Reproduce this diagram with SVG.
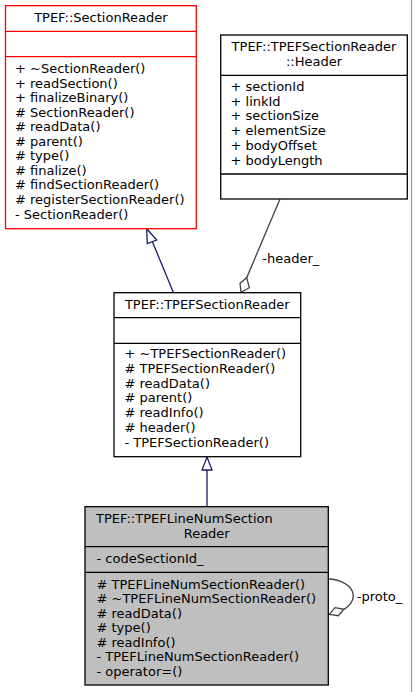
<svg xmlns="http://www.w3.org/2000/svg" width="413" height="692" viewBox="0 0 413 692">
<style>
text { font-family: "DejaVu Sans", "Liberation Sans", sans-serif; font-size: 13px; fill: #000; }
.c { text-anchor: middle; }
.box { fill: #fff; stroke: #000; stroke-width: 1.3; }
.red { stroke: #ff0000; }
.gray { fill: #bfbfbf; }
.sep { stroke: #000; stroke-width: 1.3; }
.inh { stroke: #191970; stroke-width: 1.3; fill: none; }
.inhHead { stroke: #191970; stroke-width: 1.3; fill: #fff; }
.agg { stroke: #404040; stroke-width: 1.3; fill: none; }
.aggHead { stroke: #404040; stroke-width: 1.3; fill: #fff; }
</style>
<rect x="0" y="0" width="413" height="692" fill="#fff"/>
<line x1="411.5" y1="0" x2="411.5" y2="692" stroke="#a0a0a0" stroke-width="1.3"/>

<g id="connectors">
  <path class="inh" d="M173.3,292.2 L152,240.8"/>
  <polygon class="inhHead" points="146.7,228.7 156.7,240 147.3,243.5"/>
  <path class="inh" d="M207,506.7 L207,470"/>
  <polygon class="inhHead" points="207,457 212,470 202,470"/>
  <path class="agg" d="M280,199 L246.7,277.7"/>
  <polygon class="aggHead" points="241,292.2 240,283.3 246.7,277.7 249.3,287.7"/>
  <text x="262.3" y="263.3">-header_</text>
  <path class="agg" d="M328.3,579 C352,580 362,598 344,609.3"/>
  <polygon class="aggHead" points="329.3,614.3 335,607.7 344,609.3 338.3,615.7"/>
  <text x="356.7" y="601">-proto_</text>
</g>

<g id="SectionReader">
  <rect class="box red" x="5.5" y="5.7" width="190.8" height="223"/>
  <line class="red" stroke-width="1.3" x1="5.5" y1="31.3" x2="196.3" y2="31.3"/>
  <line class="red" stroke-width="1.3" x1="5.5" y1="56.7" x2="196.3" y2="56.7"/>
  <text class="c" x="100.9" y="22">TPEF::SectionReader</text>
  <text x="15" y="73">+ ~SectionReader()</text>
  <text x="15" y="87.55">+ readSection()</text>
  <text x="15" y="102.1">+ finalizeBinary()</text>
  <text x="15" y="116.65"># SectionReader()</text>
  <text x="15" y="131.2"># readData()</text>
  <text x="15" y="145.75"># parent()</text>
  <text x="15" y="160.3"># type()</text>
  <text x="15" y="174.85"># finalize()</text>
  <text x="15" y="189.4"># findSectionReader()</text>
  <text x="15" y="203.95"># registerSectionReader()</text>
  <text x="15" y="218.5">- SectionReader()</text>
</g>

<g id="Header">
  <rect class="box" x="220.7" y="35" width="186.6" height="164"/>
  <line class="sep" x1="220.7" y1="75.3" x2="407.3" y2="75.3"/>
  <line class="sep" x1="220.7" y1="174" x2="407.3" y2="174"/>
  <text class="c" x="314" y="51">TPEF::TPEFSectionReader</text>
  <text class="c" x="314" y="65.7">::Header</text>
  <text x="230.5" y="91">+ sectionId</text>
  <text x="230.5" y="105.7">+ linkId</text>
  <text x="230.5" y="120.4">+ sectionSize</text>
  <text x="230.5" y="135.1">+ elementSize</text>
  <text x="230.5" y="149.8">+ bodyOffset</text>
  <text x="230.5" y="164.5">+ bodyLength</text>
</g>

<g id="TPEFSectionReader">
  <rect class="box" x="114" y="292.7" width="186.7" height="164"/>
  <line class="sep" x1="114" y1="317.7" x2="300.7" y2="317.7"/>
  <line class="sep" x1="114" y1="343.3" x2="300.7" y2="343.3"/>
  <text class="c" x="207.3" y="309.3">TPEF::TPEFSectionReader</text>
  <text x="124.5" y="358.3">+ ~TPEFSectionReader()</text>
  <text x="124.5" y="373"># TPEFSectionReader()</text>
  <text x="124.5" y="387.7"># readData()</text>
  <text x="124.5" y="402.4"># parent()</text>
  <text x="124.5" y="417.1"># readInfo()</text>
  <text x="124.5" y="431.8"># header()</text>
  <text x="124.5" y="446.5">- TPEFSectionReader()</text>
</g>

<g id="TPEFLineNumSectionReader">
  <rect class="box gray" x="85" y="506.7" width="243.3" height="178.3"/>
  <line class="sep" x1="85" y1="546.7" x2="328.3" y2="546.7"/>
  <line class="sep" x1="85" y1="572.3" x2="328.3" y2="572.3"/>
  <text x="96" y="523.3">TPEF::TPEFLineNumSection</text>
  <text class="c" x="206.7" y="537.5">Reader</text>
  <text x="96.5" y="563.3">- codeSectionId_</text>
  <text x="96.5" y="589"># TPEFLineNumSectionReader()</text>
  <text x="96.5" y="603.45"># ~TPEFLineNumSectionReader()</text>
  <text x="96.5" y="617.9"># readData()</text>
  <text x="96.5" y="632.35"># type()</text>
  <text x="96.5" y="646.8"># readInfo()</text>
  <text x="96.5" y="661.25">- TPEFLineNumSectionReader()</text>
  <text x="96.5" y="675.7">- operator=()</text>
</g>
</svg>
